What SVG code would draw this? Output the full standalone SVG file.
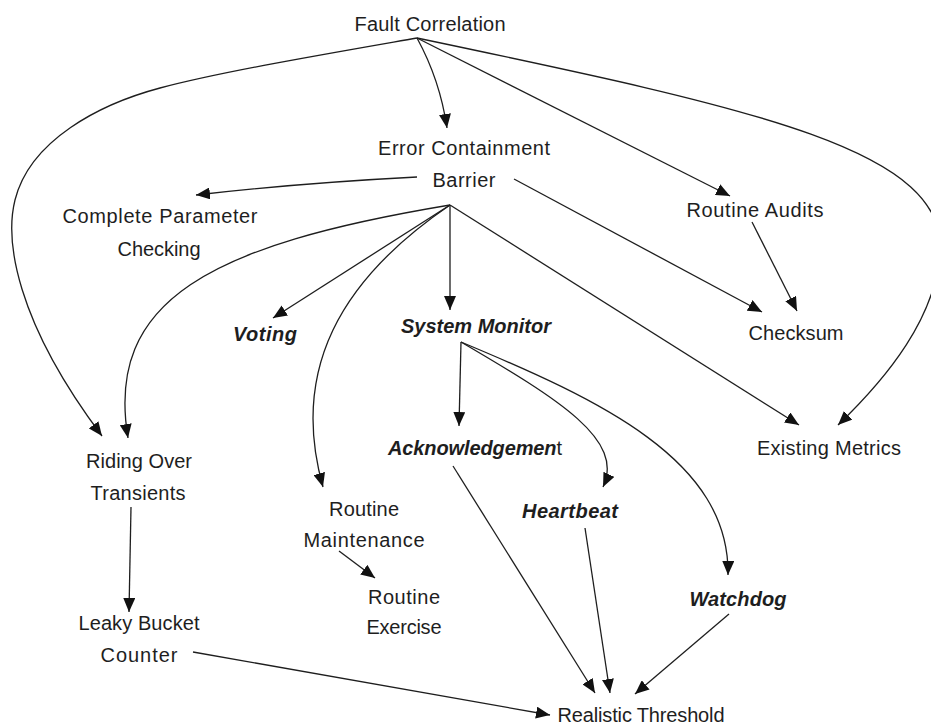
<svg xmlns="http://www.w3.org/2000/svg" width="931" height="726" viewBox="0 0 931 726">
  <style>
    .t { font-family: "Liberation Sans", Arial, sans-serif; font-size: 20px; fill: #1e1e1e; text-anchor: middle; }
    .bi { font-weight: bold; font-style: italic; }
    .e { fill: none; stroke: #1e1e1e; stroke-width: 1.3; marker-end: url(#arrow); }
  </style>
  <defs>
    <marker id="arrow" markerUnits="userSpaceOnUse" markerWidth="15" markerHeight="12" refX="14" refY="6" orient="auto">
      <path d="M0,0 L14,6 L0,12 z" fill="#111"/>
    </marker>
  </defs>
  <rect width="931" height="726" fill="#ffffff"/>

  <g id="connectors">
    <!-- from Fault Correlation -->
    <path class="e" d="M417,38 Q440,80 447,128"/>
    <path class="e" d="M417,38 L730,196"/>
    <path class="e" d="M417,38 C760,110 950,150 940,255 C934,318 890,375 838,425"/>
    <path class="e" d="M417,38 C320,55 220,72 160,88 C100,104 30,140 15,200 C5,240 15,320 102,436"/>
    <!-- from Error Containment Barrier -->
    <path class="e" d="M417,177 Q300,183 196,195"/>
    <path class="e" d="M514,179 L762,312"/>
    <path class="e" d="M450,205 C210,245 105,300 128,438"/>
    <path class="e" d="M450,205 L273,318"/>
    <path class="e" d="M450,205 C340,280 290,370 323,487"/>
    <path class="e" d="M450,205 L450,310"/>
    <path class="e" d="M450,205 L799,425"/>
    <!-- from Routine Audits -->
    <path class="e" d="M752,222 L797,311"/>
    <!-- from System Monitor -->
    <path class="e" d="M461,342 L459,426"/>
    <path class="e" d="M461,342 C560,400 625,440 603,487"/>
    <path class="e" d="M461,342 C600,400 730,460 728,575"/>
    <!-- into Realistic Threshold -->
    <path class="e" d="M453,466 L595,693"/>
    <path class="e" d="M585,528 L610,693"/>
    <path class="e" d="M729,614 L635,694"/>
    <path class="e" d="M193,652 L550,715"/>
    <!-- other -->
    <path class="e" d="M131,507 L129,612"/>
    <path class="e" d="M339,551 L375,578"/>
  </g>

  <g id="fault-correlation"><text class="t" x="430" y="31" textLength="151">Fault Correlation</text></g>
  <g id="error-containment-barrier">
    <text class="t" x="464" y="155" textLength="172">Error Containment</text>
    <text class="t" x="464" y="187" textLength="63">Barrier</text>
  </g>
  <g id="complete-parameter-checking">
    <text class="t" x="160" y="223" textLength="195">Complete Parameter</text>
    <text class="t" x="159" y="256" textLength="83">Checking</text>
  </g>
  <g id="routine-audits"><text class="t" x="755" y="217" textLength="137">Routine Audits</text></g>
  <g id="voting"><text class="t bi" x="265" y="341" textLength="64">Voting</text></g>
  <g id="system-monitor"><text class="t bi" x="476" y="333" textLength="150">System Monitor</text></g>
  <g id="checksum"><text class="t" x="796" y="340" textLength="95">Checksum</text></g>
  <g id="riding-over-transients">
    <text class="t" x="139" y="468" textLength="106">Riding Over</text>
    <text class="t" x="138" y="500" textLength="95">Transients</text>
  </g>
  <g id="acknowledgement"><text class="t" x="475" y="455" textLength="174"><tspan class="bi">Acknowledgemen</tspan>t</text></g>
  <g id="existing-metrics"><text class="t" x="829" y="455" textLength="144">Existing Metrics</text></g>
  <g id="heartbeat"><text class="t bi" x="570" y="518" textLength="96">Heartbeat</text></g>
  <g id="routine-maintenance">
    <text class="t" x="364" y="516" textLength="70">Routine</text>
    <text class="t" x="364" y="547" textLength="121">Maintenance</text>
  </g>
  <g id="routine-exercise">
    <text class="t" x="404" y="604" textLength="72">Routine</text>
    <text class="t" x="404" y="634" textLength="75">Exercise</text>
  </g>
  <g id="watchdog"><text class="t bi" x="738" y="606" textLength="97">Watchdog</text></g>
  <g id="leaky-bucket-counter">
    <text class="t" x="139" y="630" textLength="121">Leaky Bucket</text>
    <text class="t" x="139" y="662" textLength="77">Counter</text>
  </g>
  <g id="realistic-threshold"><text class="t" x="641" y="722" textLength="167">Realistic Threshold</text></g>
</svg>
